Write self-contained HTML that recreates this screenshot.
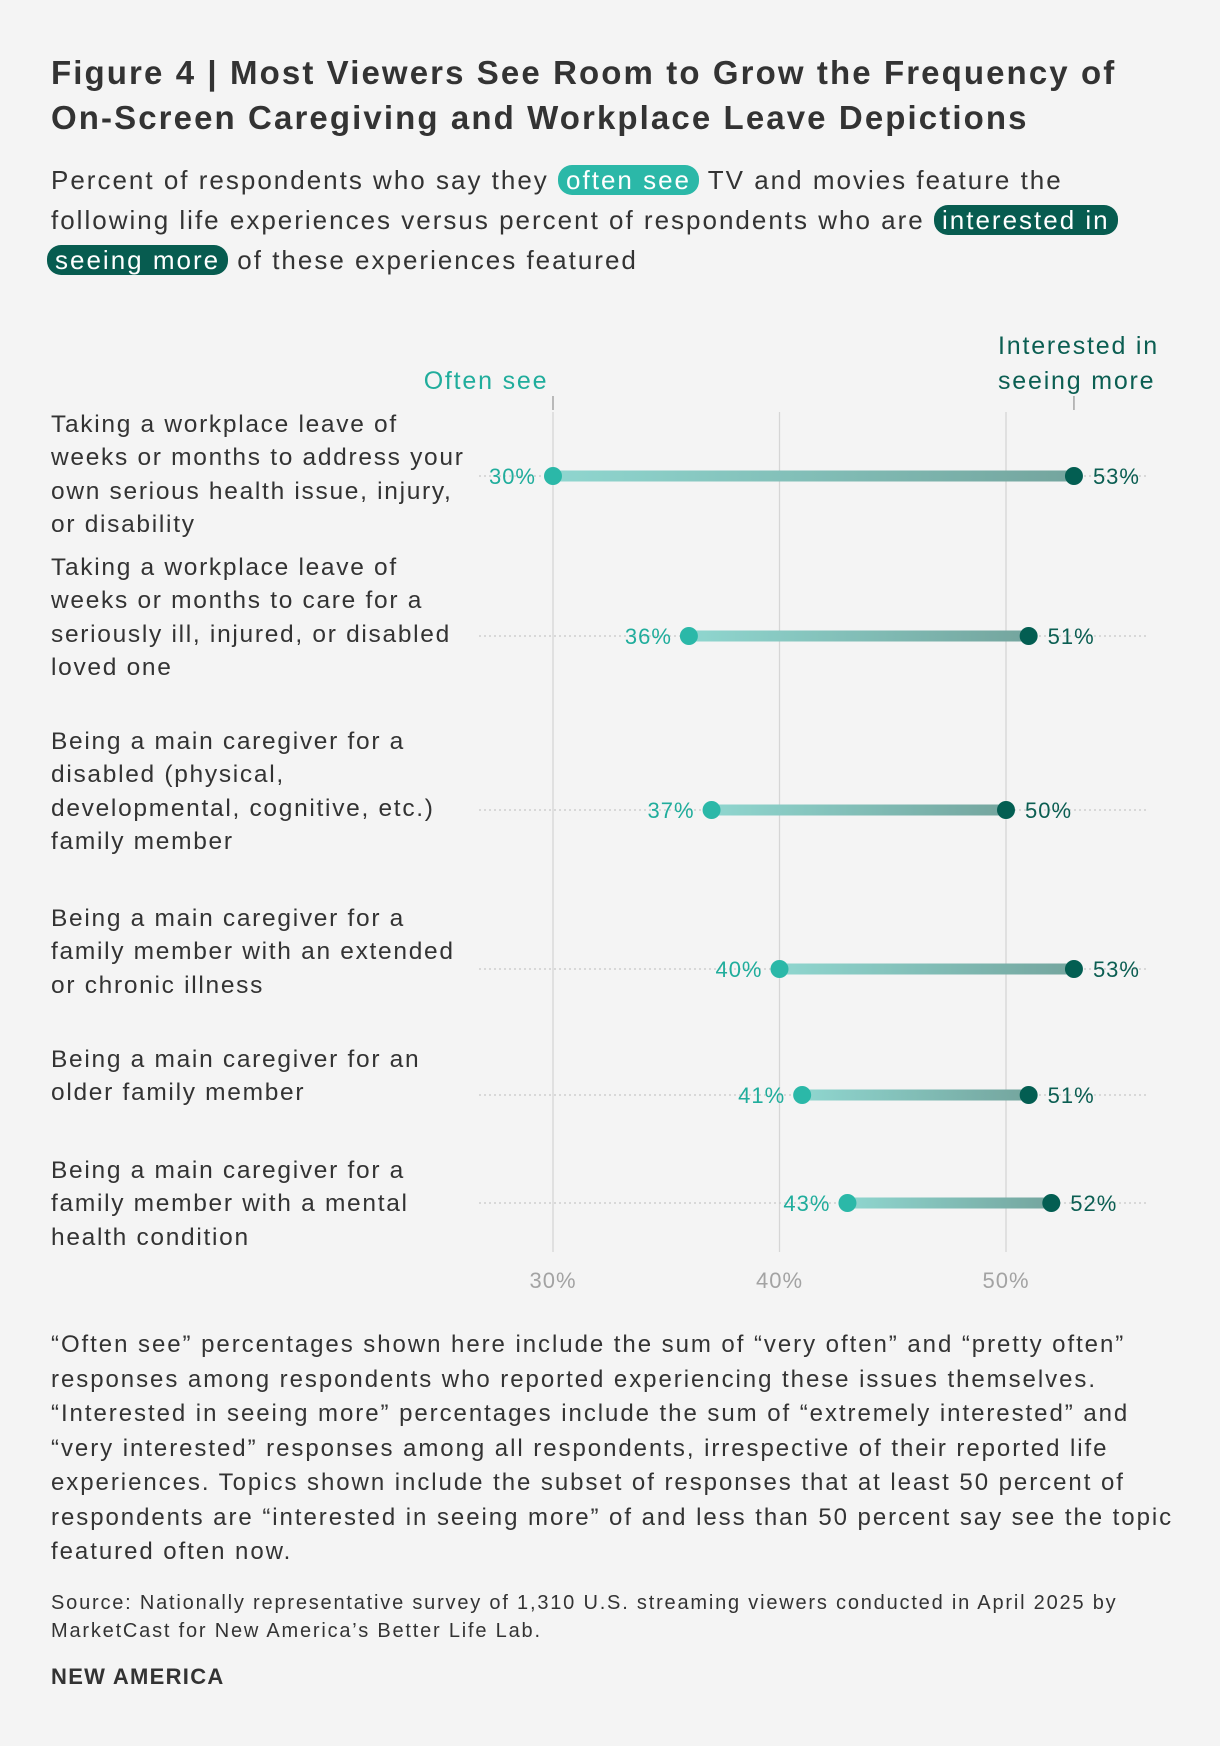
<!DOCTYPE html>
<html><head><meta charset="utf-8"><style>
body{margin:0;background:#f4f4f4;font-family:"Liberation Sans",sans-serif;color:#333;}
#wrap{position:relative;width:1220px;height:1746px;overflow:hidden;background:#f4f4f4;}
.t{position:absolute;left:51px;white-space:nowrap;}
#title{top:50px;font-size:33px;font-weight:bold;line-height:45px;color:#333;letter-spacing:2.1px;}
#sub{top:160px;font-size:26px;line-height:40px;color:#333;letter-spacing:2px;}
.pill1{background:#2bb8a8;color:#fff;border-radius:14px;padding:0 8px;}
.pill2{background:#075c50;color:#fff;border-radius:14px;padding:0 8px;}
.lab{position:absolute;left:51px;font-size:24.5px;line-height:33.4px;color:#333;letter-spacing:1.7px;white-space:nowrap;}
#foot{top:1328px;font-size:24px;line-height:34.5px;color:#333;letter-spacing:1.95px;}
#src{top:1589px;font-size:20px;line-height:28px;color:#333;letter-spacing:1.8px;}
#brand{top:1664px;font-size:22px;font-weight:bold;color:#333;letter-spacing:1.3px;}
</style></head><body><div id="wrap">
<div id="title" class="t">Figure 4 | Most Viewers See Room to Grow the Frequency of<br>On-Screen Caregiving and Workplace Leave Depictions</div>
<div id="sub" class="t">Percent of respondents who say they <span class="pill1">often see</span> TV and movies feature the<br>following life experiences versus percent of respondents who are <span class="pill2">interested in</span><br><span class="pill2" style="margin-left:-4px">seeing more</span> of these experiences featured</div>
<div class="lab" style="top:408px">Taking a workplace leave of<br>weeks or months to address your<br>own serious health issue, injury,<br>or disability</div>
<div class="lab" style="top:551px">Taking a workplace leave of<br>weeks or months to care for a<br>seriously ill, injured, or disabled<br>loved one</div>
<div class="lab" style="top:725px">Being a main caregiver for a<br>disabled (physical,<br>developmental, cognitive, etc.)<br>family member</div>
<div class="lab" style="top:902px">Being a main caregiver for a<br>family member with an extended<br>or chronic illness</div>
<div class="lab" style="top:1043px">Being a main caregiver for an<br>older family member</div>
<div class="lab" style="top:1154px">Being a main caregiver for a<br>family member with a mental<br>health condition</div>
<svg id="chart" style="position:absolute;left:0;top:0" width="1220" height="1320">
<defs><linearGradient id="g" x1="0" x2="1"><stop offset="0" stop-color="#8fd6cf"/><stop offset="1" stop-color="#74a59e"/></linearGradient></defs>
</svg>
<div id="foot" class="t">“Often see” percentages shown here include the sum of “very often” and “pretty often”<br>responses among respondents who reported experiencing these issues themselves.<br>“Interested in seeing more” percentages include the sum of “extremely interested” and<br>“very interested” responses among all respondents, irrespective of their reported life<br>experiences. Topics shown include the subset of responses that at least 50 percent of<br>respondents are “interested in seeing more” of and less than 50 percent say see the topic<br>featured often now.</div>
<div id="src" class="t">Source: Nationally representative survey of 1,310 U.S. streaming viewers conducted in April 2025 by<br>MarketCast for New America’s Better Life Lab.</div>
<div id="brand" class="t">NEW AMERICA</div>
</div>
<script>
const categories=["Own health leave","Care leave","Disabled family member","Chronic illness","Older family member","Mental health"];
const oftenSee=[30,36,37,40,41,43];
const interested=[53,51,50,53,51,52];
const ticks=[30,40,50];
const rowY=[476,636,810,969,1095,1203];
const NS="http://www.w3.org/2000/svg";
const svg=document.getElementById('chart');
const x=v=>553+(v-30)*22.65;
function mk(t,a){const e=document.createElementNS(NS,t);for(const k in a)e.setAttribute(k,a[k]);svg.appendChild(e);return e;}
ticks.forEach(t=>{
 const l=mk('line',{x1:x(t),x2:x(t),y1:412,y2:1252,stroke:'#d6d6d6','stroke-width':1.3});
 
 
 const tx=mk('text',{x:x(t),y:1288,'text-anchor':'middle','font-size':22,fill:'#a3a3a3','font-family':'Liberation Sans','letter-spacing':1});
 tx.textContent=t+'%';
 
 
});
let h1=mk('text',{x:486,y:389,'text-anchor':'middle','font-size':25,fill:'#20ad9c','font-family':'Liberation Sans','letter-spacing':1.8});h1.textContent='Often see';


let h2=mk('text',{x:998,y:354,'font-size':25,fill:'#0b5e52','font-family':'Liberation Sans','letter-spacing':1.8});h2.textContent='Interested in';


let h3=mk('text',{x:998,y:389,'font-size':25,fill:'#0b5e52','font-family':'Liberation Sans','letter-spacing':1.8});h3.textContent='seeing more';


mk('line',{x1:x(30),x2:x(30),y1:396,y2:410,stroke:'#999','stroke-width':1.3});
mk('line',{x1:x(53),x2:x(53),y1:396,y2:410,stroke:'#999','stroke-width':1.3});
categories.forEach((c,i)=>{
 const y=rowY[i],a=x(oftenSee[i]),b=x(interested[i]);
 const d=mk('line',{x1:479,x2:1147,y1:y,y2:y,stroke:'#c8c8c8','stroke-width':1.3,'stroke-dasharray':'2 3'});
 
 
 const bar=mk('rect',{x:a,y:y-5.5,width:b-a,height:11,fill:'url(#g)'});
 
 
 const c1=mk('circle',{cx:a,cy:y,r:9,fill:'#2bb8a8'});
 
 
 const c2=mk('circle',{cx:b,cy:y,r:9,fill:'#035e52'});
 
 
 const t1=mk('text',{x:a-17,y:y+8,'text-anchor':'end','font-size':22,fill:'#20ad9c','font-family':'Liberation Sans','letter-spacing':1});t1.textContent=oftenSee[i]+'%';
 
 
 const t2=mk('text',{x:b+19,y:y+8,'font-size':22,fill:'#0b5e52','font-family':'Liberation Sans','letter-spacing':1});t2.textContent=interested[i]+'%';
 
 
});
</script>
</body></html>
